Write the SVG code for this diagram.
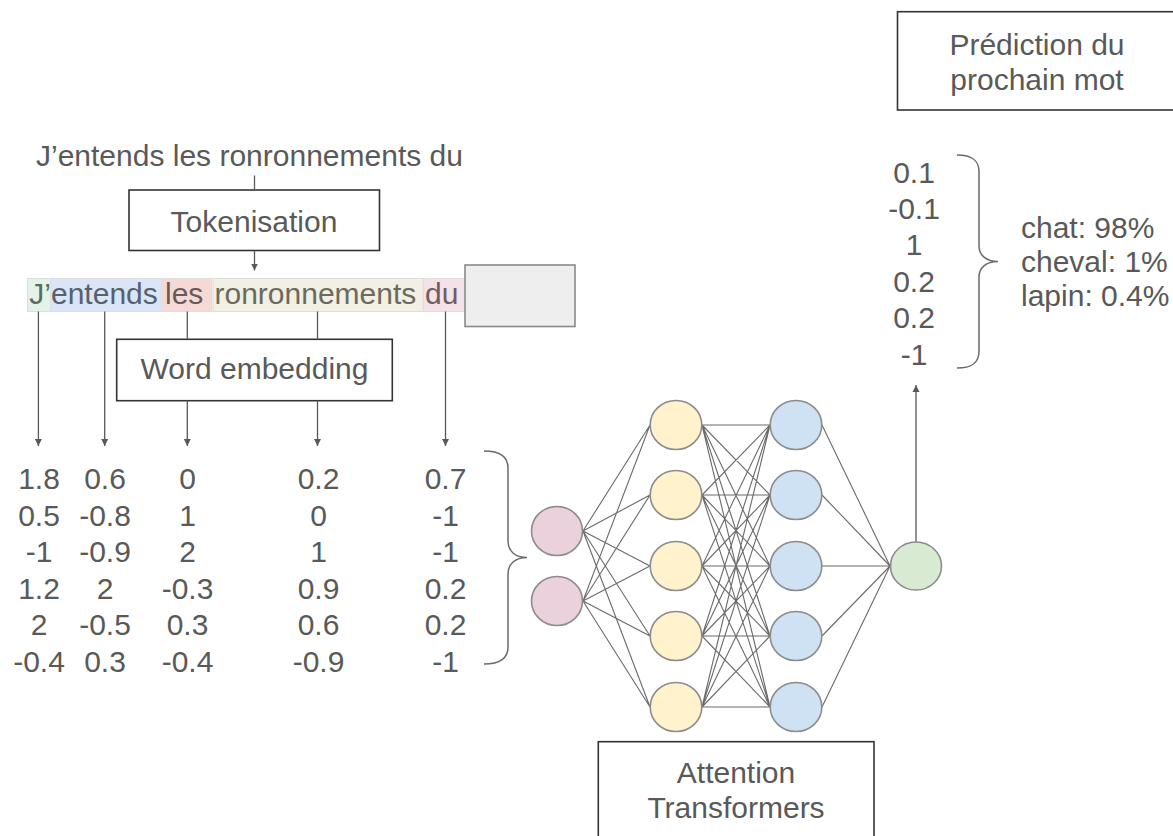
<svg xmlns="http://www.w3.org/2000/svg" width="1173" height="836" viewBox="0 0 1173 836">
<defs>
<style>
text{font-family:"Liberation Sans",Arial,sans-serif;font-size:30px;fill:#595959}
.c{text-anchor:middle}
.box{fill:#ffffff;stroke:#333333;stroke-width:1.6}
.ln{fill:none;stroke:#595959;stroke-width:1.3}
.edge{stroke:#6a6a6a;stroke-width:1.1}
.node{stroke:#8c8c8c;stroke-width:1.6}
.brace{fill:none;stroke:#6a6a6a;stroke-width:1.5}
.tok{stroke:#dedede;stroke-width:1}
</style>
<marker id="ah" viewBox="0 0 10 10" refX="10" refY="5" markerWidth="7" markerHeight="9" markerUnits="userSpaceOnUse" orient="auto">
<path d="M0,0 L10,5 L0,10 z" fill="#595959"/>
</marker>
</defs>
<rect width="1173" height="836" fill="#ffffff"/>

<g id="sentence">
<text x="36" y="166">J’entends les ronronnements du</text>
</g>

<g id="tokenisation">
<rect class="box" x="129" y="190" width="250.5" height="60.5"/>
<text class="c" x="254" y="232">Tokenisation</text>
</g>

<g id="tokens">
<rect class="tok" x="27.5" y="278.5" width="23.2" height="33" fill="#e5f2e8"/>
<rect class="tok" x="50.7" y="278.5" width="111" height="33" fill="#dae6f7"/>
<rect class="tok" x="161.7" y="278.5" width="50" height="33" fill="#f5d9d7"/>
<rect class="tok" x="213" y="278.5" width="210.3" height="33" fill="#f2efe3"/>
<rect class="tok" x="423.3" y="278.5" width="41.7" height="33" fill="#f4e2e7"/>
<text x="29.3" y="304" style="fill:#5b6b5f">J’</text>
<text x="51" y="304" style="fill:#56606e">entends</text>
<text x="165" y="304" style="fill:#6e5857">les</text>
<text x="214.5" y="304" style="fill:#6b6a5e">ronronnements</text>
<text x="425" y="304" style="fill:#6e5d62">du</text>
</g>

<g id="mask-box">
<rect x="465" y="265" width="110" height="61.5" fill="#eeeeee" stroke="#8a8a8a" stroke-width="1.6"/>
</g>

<g id="word-embedding">
<rect class="box" x="116.7" y="339.3" width="275.6" height="61.4"/>
<text class="c" x="254.5" y="379">Word embedding</text>
</g>

<g id="embeddings">
<text class="c" x="39" y="489">1.8</text>
<text class="c" x="39" y="525.6">0.5</text>
<text class="c" x="39" y="562.2">-1</text>
<text class="c" x="39" y="598.8">1.2</text>
<text class="c" x="39" y="635.4">2</text>
<text class="c" x="39" y="672">-0.4</text>
<text class="c" x="105" y="489">0.6</text>
<text class="c" x="105" y="525.6">-0.8</text>
<text class="c" x="105" y="562.2">-0.9</text>
<text class="c" x="105" y="598.8">2</text>
<text class="c" x="105" y="635.4">-0.5</text>
<text class="c" x="105" y="672">0.3</text>
<text class="c" x="187.5" y="489">0</text>
<text class="c" x="187.5" y="525.6">1</text>
<text class="c" x="187.5" y="562.2">2</text>
<text class="c" x="187.5" y="598.8">-0.3</text>
<text class="c" x="187.5" y="635.4">0.3</text>
<text class="c" x="187.5" y="672">-0.4</text>
<text class="c" x="318.5" y="489">0.2</text>
<text class="c" x="318.5" y="525.6">0</text>
<text class="c" x="318.5" y="562.2">1</text>
<text class="c" x="318.5" y="598.8">0.9</text>
<text class="c" x="318.5" y="635.4">0.6</text>
<text class="c" x="318.5" y="672">-0.9</text>
<text class="c" x="445.5" y="489">0.7</text>
<text class="c" x="445.5" y="525.6">-1</text>
<text class="c" x="445.5" y="562.2">-1</text>
<text class="c" x="445.5" y="598.8">0.2</text>
<text class="c" x="445.5" y="635.4">0.2</text>
<text class="c" x="445.5" y="672">-1</text>
<path class="brace" d="M484,451 C499,451 508,456 508,468 L508,541 C508,551 515,557.5 527,557.5 C515,557.5 508,564 508,574 L508,647 C508,659 499,664 484,664"/>
</g>

<g id="connectors">
<line class="ln" x1="254.5" y1="175.5" x2="254.5" y2="190"/>
<line class="ln" x1="254.5" y1="250.7" x2="254.5" y2="270.5" marker-end="url(#ah)"/>
<line class="ln" x1="38.4" y1="311.5" x2="38.4" y2="446" marker-end="url(#ah)"/>
<line class="ln" x1="104.7" y1="311.5" x2="104.7" y2="446" marker-end="url(#ah)"/>
<line class="ln" x1="187.3" y1="311.5" x2="187.3" y2="339.3"/>
<line class="ln" x1="187.3" y1="400.7" x2="187.3" y2="446" marker-end="url(#ah)"/>
<line class="ln" x1="317.5" y1="311.5" x2="317.5" y2="339.3"/>
<line class="ln" x1="317.5" y1="400.7" x2="317.5" y2="446" marker-end="url(#ah)"/>
<line class="ln" x1="445.5" y1="311.5" x2="445.5" y2="446" marker-end="url(#ah)"/>
<line class="ln" x1="916" y1="542" x2="916" y2="385" marker-end="url(#ah)"/>
</g>

<g id="network-edges">
<path class="edge" d="M583,531 L650,425 M583,531 L650,495 M583,531 L650,566 M583,531 L650,636 M583,531 L650,707
M583,601 L650,425 M583,601 L650,495 M583,601 L650,566 M583,601 L650,636 M583,601 L650,707
M702,425 L770,425 M702,425 L770,495 M702,425 L770,566 M702,425 L770,636 M702,425 L770,707
M702,495 L770,425 M702,495 L770,495 M702,495 L770,566 M702,495 L770,636 M702,495 L770,707
M702,566 L770,425 M702,566 L770,495 M702,566 L770,566 M702,566 L770,636 M702,566 L770,707
M702,636 L770,425 M702,636 L770,495 M702,636 L770,566 M702,636 L770,636 M702,636 L770,707
M702,707 L770,425 M702,707 L770,495 M702,707 L770,566 M702,707 L770,636 M702,707 L770,707
M822,425 L890,566 M822,495 L890,566 M822,566 L890,566 M822,636 L890,566 M822,707 L890,566"/>
</g>

<g id="input-layer">
<ellipse class="node" cx="557" cy="531" rx="25.5" ry="24.5" fill="#ead1dc"/>
<ellipse class="node" cx="557" cy="601" rx="25.5" ry="24.5" fill="#ead1dc"/>
</g>
<g id="hidden-layer-1">
<ellipse class="node" cx="676" cy="425" rx="25.8" ry="24.5" fill="#fff2cc"/>
<ellipse class="node" cx="676" cy="495" rx="25.8" ry="24.5" fill="#fff2cc"/>
<ellipse class="node" cx="676" cy="566" rx="25.8" ry="24.5" fill="#fff2cc"/>
<ellipse class="node" cx="676" cy="636" rx="25.8" ry="24.5" fill="#fff2cc"/>
<ellipse class="node" cx="676" cy="707" rx="25.8" ry="24.5" fill="#fff2cc"/>
</g>
<g id="hidden-layer-2">
<ellipse class="node" cx="796" cy="425" rx="25.8" ry="24.5" fill="#cfe2f3"/>
<ellipse class="node" cx="796" cy="495" rx="25.8" ry="24.5" fill="#cfe2f3"/>
<ellipse class="node" cx="796" cy="566" rx="25.8" ry="24.5" fill="#cfe2f3"/>
<ellipse class="node" cx="796" cy="636" rx="25.8" ry="24.5" fill="#cfe2f3"/>
<ellipse class="node" cx="796" cy="707" rx="25.8" ry="24.5" fill="#cfe2f3"/>
</g>
<g id="output-node">
<ellipse class="node" cx="916" cy="566" rx="25.5" ry="24" fill="#d9ead3"/>
</g>

<g id="attention-transformers">
<rect class="box" x="598.3" y="741.7" width="275.7" height="110"/>
<text class="c" x="736" y="783">Attention</text>
<text class="c" x="736" y="818">Transformers</text>
</g>

<g id="output-vector">
<text class="c" x="914" y="182.5">0.1</text>
<text class="c" x="914" y="218.9">-0.1</text>
<text class="c" x="914" y="255.3">1</text>
<text class="c" x="914" y="291.7">0.2</text>
<text class="c" x="914" y="328.1">0.2</text>
<text class="c" x="914" y="364.5">-1</text>
<path class="brace" d="M957,155 C972,155 979,160 979,172 L979,246 C979,255 986,261.5 998,261.5 C986,261.5 979,268 979,277 L979,351 C979,363 972,368 957,368"/>
</g>

<g id="probabilities">
<text x="1021" y="237.5">chat: 98%</text>
<text x="1021" y="271.5">cheval: 1%</text>
<text x="1021" y="305.5">lapin: 0.4%</text>
</g>

<g id="prediction">
<rect class="box" x="897.5" y="11.7" width="290" height="98.3"/>
<text class="c" x="1037" y="55">Prédiction du</text>
<text class="c" x="1037" y="90">prochain mot</text>
</g>
</svg>
